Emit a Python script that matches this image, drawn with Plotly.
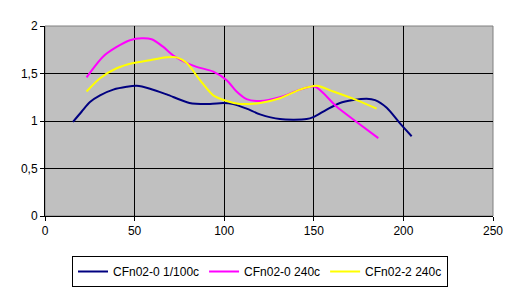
import plotly.graph_objects as go

x_navy = [15.6, 20.5, 25.1, 30.7, 38.1, 45.6, 51.2, 58.6, 67.9, 80.6, 92.1, 99.5, 105, 112.5, 120, 131.1, 146, 149.7, 157.2, 164.6, 172, 179.5, 184.2, 190.7, 198.1, 204.6]
y_navy = [0.99, 1.10, 1.20, 1.27, 1.33, 1.36, 1.37, 1.34, 1.28, 1.19, 1.18, 1.19, 1.18, 1.13, 1.07, 1.02, 1.02, 1.04, 1.12, 1.19, 1.22, 1.235, 1.22, 1.14, 0.975, 0.84]

x_mag = [23.2, 32.5, 40, 47.4, 54, 59.5, 66, 71.6, 78.1, 84.6, 93.9, 101.4, 106.9, 112.5, 120, 131.1, 142.3, 150.7, 162.8, 173.9, 186]
y_mag = [1.46, 1.68, 1.78, 1.85, 1.87, 1.86, 1.78, 1.69, 1.62, 1.57, 1.52, 1.43, 1.31, 1.23, 1.21, 1.25, 1.33, 1.36, 1.15, 0.99, 0.82]

x_yel = [23.2, 30.7, 40, 49.3, 58.6, 67.9, 73.5, 79.1, 86.5, 93.9, 101.4, 108.8, 120, 131.1, 142.3, 151.6, 160.9, 173.9, 185.1]
y_yel = [1.31, 1.45, 1.555, 1.61, 1.64, 1.67, 1.67, 1.61, 1.43, 1.27, 1.21, 1.18, 1.19, 1.24, 1.33, 1.37, 1.31, 1.22, 1.13]

names = ["CFn02-0 1/100c", "CFn02-0 240c", "CFn02-2 240c"]
colors = ["#000080", "#FF00FF", "#FFFF00"]

fig = go.Figure()
for xs, ys, n, c in zip([x_navy, x_mag, x_yel], [y_navy, y_mag, y_yel], names, colors):
    fig.add_trace(go.Scatter(x=xs, y=ys, name=n, mode="lines",
                             line=dict(color=c, width=2, shape="spline", smoothing=0.8)))

fig.update_layout(
    width=520, height=289,
    margin=dict(l=45, r=27, t=26, b=73, autoexpand=False),
    paper_bgcolor="white", plot_bgcolor="#C0C0C0",
    font=dict(family="Liberation Sans, Arial, sans-serif", size=12, color="black"),
    showlegend=True,
    legend=dict(orientation="h", x=0.5, xanchor="center", xref="container",
                y=1 - 256 / 289, yanchor="top", yref="container",
                bordercolor="black", borderwidth=1, bgcolor="white",
                font=dict(size=12), itemwidth=30, tracegroupgap=0),
    shapes=[dict(type="rect", xref="paper", yref="paper", x0=0, y0=0, x1=1, y1=1,
                 line=dict(color="#808080", width=1), layer="below")],
)
fig.update_xaxes(range=[0, 250], tickvals=[0, 50, 100, 150, 200, 250],
                 showgrid=True, gridcolor="black", gridwidth=1,
                 showline=True, linecolor="black", linewidth=1,
                 ticks="outside", ticklen=4, tickcolor="black", zeroline=False)
fig.update_yaxes(range=[0, 2], tickvals=[0, 0.5, 1, 1.5, 2],
                 ticktext=["0", "0,5", "1", "1,5", "2"],
                 showgrid=True, gridcolor="black", gridwidth=1,
                 showline=True, linecolor="black", linewidth=1,
                 ticks="outside", ticklen=4, tickcolor="black", zeroline=False)

fig.write_html("out.html")
